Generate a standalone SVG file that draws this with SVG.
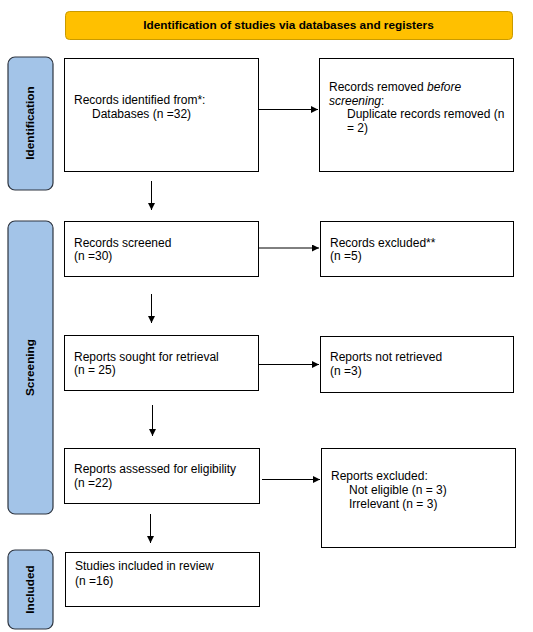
<svg xmlns="http://www.w3.org/2000/svg" width="533" height="632" viewBox="0 0 533 632">
<style>
text{font-family:"Liberation Sans",Arial,sans-serif;font-size:12px;fill:#000}
.hdr{font-weight:bold;font-size:11.8px}
.side{fill:#A3C4E8;stroke:#2E3540;stroke-width:1.2}
.side-t{font-weight:bold;font-size:11.8px}
.box{fill:#fff;stroke:#000;stroke-width:1}
.conn line{stroke:#000;stroke-width:1}
</style>
<defs>
<marker id="ah" viewBox="0 0 10 10" refX="10" refY="5" markerWidth="7" markerHeight="7" markerUnits="userSpaceOnUse" orient="auto">
<path d="M0,0 L10,5 L0,10 z" fill="#000"/>
</marker>
</defs>
<rect width="533" height="632" fill="#fff"/>
<g id="header">
<rect x="65.5" y="11.5" width="447" height="28" rx="4" fill="#FFC000" stroke="#C99A00"/>
<text class="hdr" x="288.5" y="29" text-anchor="middle">Identification of studies via databases and registers</text>
</g>
<g id="side-identification">
<rect class="side" x="8" y="57" width="45" height="133" rx="7"/>
<text class="side-t" transform="translate(34,123) rotate(-90)" text-anchor="middle">Identification</text>
</g>
<g id="side-screening">
<rect class="side" x="8" y="221" width="45" height="293" rx="7"/>
<text class="side-t" transform="translate(34,367.5) rotate(-90)" text-anchor="middle">Screening</text>
</g>
<g id="side-included">
<rect class="side" x="8" y="550" width="45" height="79" rx="7"/>
<text class="side-t" transform="translate(34,589.5) rotate(-90)" text-anchor="middle">Included</text>
</g>
<g id="n-identified">
<rect class="box" x="64.5" y="58.5" width="194" height="113"/>
<text x="74" y="104">Records identified from*:</text>
<text x="92" y="117.5">Databases (n =32)</text>
</g>
<g id="n-removed">
<rect class="box" x="319.5" y="58.5" width="194" height="113"/>
<text x="329" y="91">Records removed <tspan font-style="italic">before</tspan></text>
<text x="329" y="104.5"><tspan font-style="italic">screening</tspan>:</text>
<text x="347" y="118">Duplicate records removed (n</text>
<text x="347" y="131.5">= 2)</text>
</g>
<g id="n-screened">
<rect class="box" x="64.5" y="221.5" width="194" height="55"/>
<text x="74" y="246.5">Records screened</text>
<text x="74" y="260">(n =30)</text>
</g>
<g id="n-excluded">
<rect class="box" x="320.5" y="221.5" width="193" height="55"/>
<text x="330" y="246.5">Records excluded**</text>
<text x="330" y="260">(n =5)</text>
</g>
<g id="n-sought">
<rect class="box" x="64.5" y="335.5" width="194" height="55"/>
<text x="74" y="360.5">Reports sought for retrieval</text>
<text x="74" y="374">(n = 25)</text>
</g>
<g id="n-notretrieved">
<rect class="box" x="320.5" y="336.5" width="193" height="56"/>
<text x="330" y="361">Reports not retrieved</text>
<text x="330" y="374.5">(n =3)</text>
</g>
<g id="n-assessed">
<rect class="box" x="64.5" y="448.5" width="195" height="55"/>
<text x="74" y="473">Reports assessed for eligibility</text>
<text x="74" y="486.5">(n =22)</text>
</g>
<g id="n-repexcluded">
<rect class="box" x="321.5" y="448.5" width="194" height="99"/>
<text x="331" y="480">Reports excluded:</text>
<text x="349" y="494">Not eligible (n = 3)</text>
<text x="349" y="508">Irrelevant (n = 3)</text>
</g>
<g id="n-included">
<rect class="box" x="65.5" y="552.5" width="194" height="54"/>
<text x="75" y="570">Studies included in review</text>
<text x="75" y="584.5">(n =16)</text>
</g>
<g class="conn" id="connectors">
<line x1="259" y1="109.5" x2="318" y2="109.5" marker-end="url(#ah)"/>
<line x1="151.5" y1="181" x2="151.5" y2="210" marker-end="url(#ah)"/>
<line x1="259" y1="248" x2="319" y2="248" marker-end="url(#ah)"/>
<line x1="151.5" y1="294" x2="151.5" y2="323" marker-end="url(#ah)"/>
<line x1="259" y1="364.5" x2="319" y2="364.5" marker-end="url(#ah)"/>
<line x1="152.5" y1="405" x2="152.5" y2="436" marker-end="url(#ah)"/>
<line x1="262" y1="479.5" x2="320" y2="479.5" marker-end="url(#ah)"/>
<line x1="150.5" y1="514" x2="150.5" y2="543" marker-end="url(#ah)"/>
</g>
</svg>
